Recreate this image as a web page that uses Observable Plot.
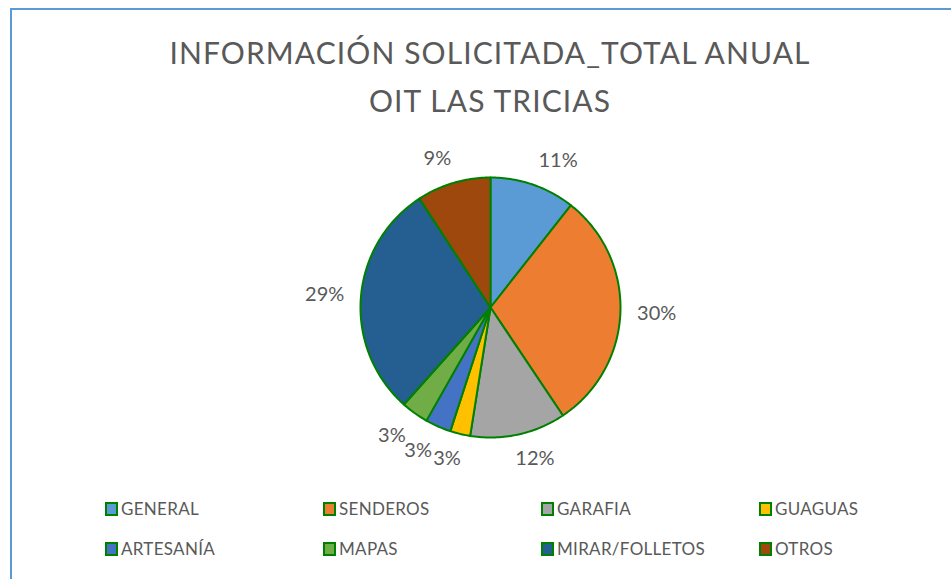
<!DOCTYPE html>
<html><head><meta charset="utf-8">
<script src="https://cdn.jsdelivr.net/npm/d3@7"></script>
<script src="https://cdn.jsdelivr.net/npm/@observablehq/plot@0.6"></script>
<style>
html,body{margin:0;padding:0;background:#fff;overflow:hidden;}
body{width:951px;height:579px;position:relative;font-family:Lato,"Liberation Sans",sans-serif;color:#595959;}
#frame{position:absolute;left:10px;top:8px;width:1000px;height:700px;border-left:2px solid #5b9bd5;border-top:2px solid #5b9bd5;}
#title{position:absolute;left:0;width:980px;top:28px;text-align:center;font-size:30px;line-height:48px;letter-spacing:1.1px;}
#chart{position:absolute;left:0;top:130px;}
#legend{position:absolute;left:0;top:0;}
.item{position:absolute;display:flex;align-items:center;font-size:17px;letter-spacing:0.3px;white-space:nowrap;}
.sw{width:9px;height:10px;border:2px solid #008000;margin-right:3px;}
</style></head>
<body>
<div id="frame"></div>
<div id="title">INFORMACIÓN SOLICITADA_TOTAL ANUAL<br>OIT LAS TRICIAS</div>
<div id="chart"></div>
<div id="legend"></div>
<script>
const categories = ["GENERAL","SENDEROS","GARAFIA","GUAGUAS","ARTESANÍA","MAPAS","MIRAR/FOLLETOS","OTROS"];
const values = [10.6, 30.0, 11.9, 2.5, 3.2, 3.4, 29.2, 9.2];
const labels = ["11%","30%","12%","3%","3%","3%","29%","9%"];
const colors = ["#5B9BD5","#ED7D31","#A5A5A5","#FFC000","#4472C4","#70AD47","#255E91","#9E480E"];

const R = 130, cx = 490, cy = 177, H = 350;
const arcs = d3.pie().sort(null).value(d => d)(values);

const slicePts = [];
arcs.forEach((a, i) => {
  slicePts.push({cat: categories[i], x: 0, y: 0});
  const n = Math.max(2, Math.ceil((a.endAngle - a.startAngle) / (Math.PI / 180)));
  for (let k = 0; k <= n; k++) {
    const t = a.startAngle + (a.endAngle - a.startAngle) * k / n;
    slicePts.push({cat: categories[i], x: Math.sin(t), y: Math.cos(t)});
  }
});

// outside-end labels: box corner anchored just outside the rim, on the slice's mid-angle
const clamp = v => Math.max(-1, Math.min(1, v));
const labelPts = arcs.map((a, i) => {
  const m = (a.startAngle + a.endAngle) / 2;
  const w = labels[i].length * 13.5, h = 18, g = 16;
  const s = Math.sin(m), c = Math.cos(m);
  const px = (R + g) * s + (w / 2) * clamp(3 * s);
  const py = (R + g) * c + (h / 2) * clamp(3 * c);
  return {label: labels[i], x: px / R, y: py / R};
});

const plot = Plot.plot({
  width: 951, height: H, margin: 0,
  style: {background: "transparent", overflow: "visible"},
  x: {domain: [-1, 1], range: [cx - R, cx + R], axis: null},
  y: {domain: [-1, 1], range: [cy + R, cy - R], axis: null},
  color: {domain: categories, range: colors},
  marks: [
    Plot.line(slicePts, {x: "x", y: "y", z: "cat", fill: "cat", stroke: "#008000", strokeWidth: 2, curve: "linear-closed", strokeLinejoin: "round"}),
    Plot.text(labelPts, {x: "x", y: "y", text: "label", fill: "#595959", fontSize: 20, fontFamily: "Lato, sans-serif", textAnchor: "middle", lineAnchor: "middle"})
  ]
});
document.getElementById("chart").appendChild(plot);

const leg = document.getElementById("legend");
categories.forEach((c, i) => {
  const el = document.createElement("div");
  el.className = "item";
  el.style.left = (105 + (i % 4) * 218) + "px";
  el.style.top = (498 + Math.floor(i / 4) * 40) + "px";
  el.innerHTML = `<span class="sw" style="background:${colors[i]}"></span><span>${c}</span>`;
  leg.appendChild(el);
});
</script>
</body></html>
